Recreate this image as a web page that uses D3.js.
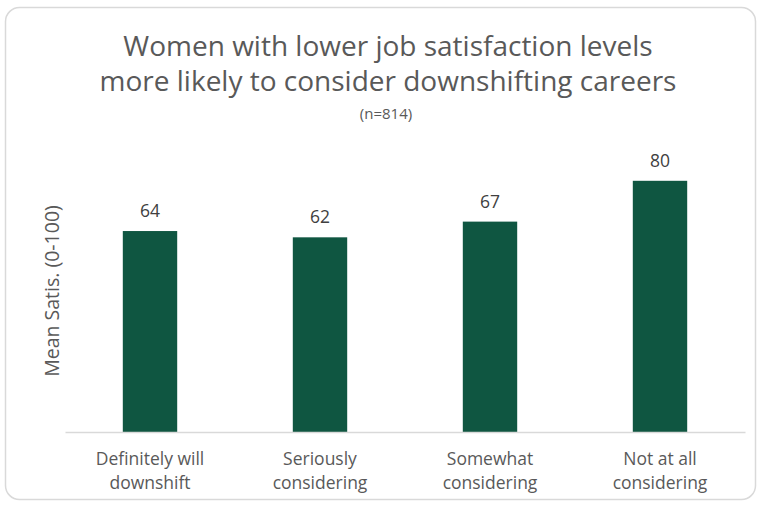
<!DOCTYPE html>
<html>
<head>
<meta charset="utf-8">
<script src="https://cdn.jsdelivr.net/npm/d3@7"></script>
<style>
  html, body { margin: 0; padding: 0; background: #fff; }
  svg { display: block; font-family: "Open Sans", sans-serif; }
</style>
</head>
<body>
<svg id="chart" width="761" height="506"></svg>
<script>
// Survey responses and mean satisfaction scores
const categories = [
  ["Definitely will", "downshift"],
  ["Seriously", "considering"],
  ["Somewhat", "considering"],
  ["Not at all", "considering"]
];
const meanSatis = [64, 62, 67, 80];
const titleLines = [
  "Women with lower job satisfaction levels",
  "more likely to consider downshifting careers"
];
const subtitle = "(n=814)";
const yAxisLabel = "Mean Satis. (0-100)";

const svg = d3.select("#chart");
const W = 761, H = 506;

// Rounded chart frame
svg.append("rect")
  .attr("x", 5.5).attr("y", 7.5)
  .attr("width", W - 11).attr("height", H - 14)
  .attr("rx", 14).attr("ry", 14)
  .attr("fill", "#fff")
  .attr("stroke", "#d9d9d9").attr("stroke-width", 1.5);

// Plot region
const plot = { left: 65, right: 745, top: 118, bottom: 432 };

const keys = categories.map((c, i) => i);
const x = d3.scaleBand()
  .domain(keys)
  .range([plot.left, plot.right])
  .paddingInner(0.68)
  .paddingOuter(0.34);

const y = d3.scaleLinear()
  .domain([0, 100])
  .range([plot.bottom, plot.top]);

// Title
svg.append("g")
  .selectAll("text")
  .data(titleLines)
  .join("text")
  .attr("x", 388)
  .attr("y", (d, i) => 56 + i * 35)
  .attr("text-anchor", "middle")
  .attr("font-size", 28)
  .attr("fill", "#595959")
  .text(d => d);

svg.append("text")
  .attr("x", 386).attr("y", 119)
  .attr("text-anchor", "middle")
  .attr("font-size", 15)
  .attr("fill", "#595959")
  .text(subtitle);

// Bars
svg.append("g")
  .selectAll("rect")
  .data(meanSatis)
  .join("rect")
  .attr("x", (d, i) => x(i))
  .attr("y", d => y(d))
  .attr("width", x.bandwidth())
  .attr("height", d => y(0) - y(d))
  .attr("fill", "#0f5641");

// Value labels
svg.append("g")
  .selectAll("text")
  .data(meanSatis)
  .join("text")
  .attr("x", (d, i) => x(i) + x.bandwidth() / 2)
  .attr("y", d => y(d) - 14)
  .attr("text-anchor", "middle")
  .attr("font-size", 17.5)
  .attr("fill", "#404040")
  .text(d => d);

// Category axis
const xAxis = svg.append("g")
  .attr("transform", `translate(0,${plot.bottom})`)
  .call(d3.axisBottom(x).tickSize(0).tickFormat(""));
xAxis.select(".domain").attr("stroke", "#d9d9d9").attr("stroke-width", 1.5);

const catLabels = svg.append("g")
  .selectAll("text")
  .data(categories)
  .join("text")
  .attr("x", (d, i) => x(i) + x.bandwidth() / 2)
  .attr("y", 465)
  .attr("text-anchor", "middle")
  .attr("font-size", 17.5)
  .attr("fill", "#595959");
catLabels.selectAll("tspan")
  .data(d => d)
  .join("tspan")
  .attr("x", function () { return d3.select(this.parentNode).attr("x"); })
  .attr("dy", (d, i) => i === 0 ? 0 : 24)
  .text(d => d);

// Y axis title
svg.append("text")
  .attr("transform", `translate(59,291) rotate(-90)`)
  .attr("text-anchor", "middle")
  .attr("font-size", 19.5)
  .attr("fill", "#595959")
  .text(yAxisLabel);
</script>
</body>
</html>
